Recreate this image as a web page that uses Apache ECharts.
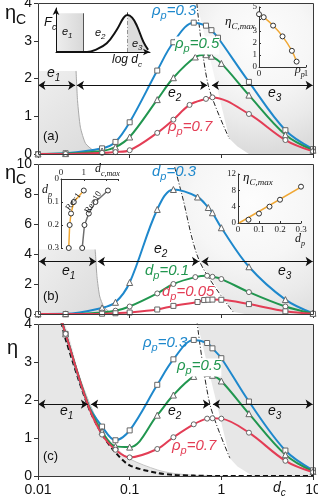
<!DOCTYPE html>
<html>
<head>
<meta charset="utf-8">
<title>eta_C vs d_c</title>
<script src="https://cdn.jsdelivr.net/npm/echarts@6.0.0/dist/echarts.min.js"></script>
<style>
  html, body { margin: 0; padding: 0; background: #fff; }
  #chart { width: 318px; height: 498px; }
</style>
</head>
<body>
<div id="chart"></div>
<script>
// ---------- values ----------
// (a) eta_C vs d_c, rho_p = 0.3 / 0.5 / 0.7
var aBlue = [[0.01, 0], [0.02, 0.02], [0.05, 0.15], [0.07, 0.32], [0.1, 0.84], [0.2, 2.21], [0.3, 2.96], [0.5, 3.48], [0.68, 3.4], [0.78, 3.28], [0.92, 3.08], [2, 1.91], [5, 0.63], [10, 0.13]];
var aGreen = [[0.01, 0], [0.02, 0.01], [0.05, 0.08], [0.07, 0.18], [0.1, 0.45], [0.2, 1.44], [0.3, 2.02], [0.52, 2.57], [0.68, 2.63], [0.78, 2.59], [1, 2.4], [2, 1.56], [5, 0.51], [10, 0.1]];
var aRed = [[0.01, 0], [0.02, 0], [0.05, 0.03], [0.07, 0.05], [0.1, 0.1], [0.2, 0.56], [0.3, 0.91], [0.45, 1.3], [0.68, 1.46], [0.8, 1.5], [2, 1.06], [5, 0.37], [10, 0.07]];
var aLeftShade = [[0.01, 2.2], [0.026, 2.2], [0.027, 1.41], [0.029, 0.71], [0.033, 0.28], [0.04, 0.1], [0.05, 0.03], [0.06, 0]];
var aRightShade = [[2.0, 0], [1.5, 0.2], [1.22, 0.41], [0.54, 4], [10, 4]];
var aDashDot = [[0.54, 4], [0.72, 1.82], [1.22, 0.41]];
var aArrowY = 1.82;
var aArrows = [[0.0101, 0.0254], [0.0266, 0.70], [0.79, 9.9]];

// (b) eta_C vs d_c, d_p = 0.3 / 0.1 / 0.05
var bBlue = [[0.01, 0], [0.02, 0.01], [0.05, 0.41], [0.07, 0.78], [0.1, 2.1], [0.2, 6.97], [0.3, 8.3], [0.55, 7.8], [0.72, 7.1], [0.8, 6.75], [1, 5.75], [2, 3.15], [5, 0.96], [10, 0.05]];
var bGreen = [[0.01, 0], [0.02, 0], [0.05, 0.1], [0.07, 0.22], [0.1, 0.5], [0.2, 1.37], [0.3, 2.0], [0.52, 2.46], [0.7, 2.55], [0.8, 2.48], [1, 2.33], [2, 1.46], [5, 0.5], [10, 0.03]];
var bRed = [[0.01, 0], [0.02, 0], [0.05, 0.02], [0.07, 0.05], [0.1, 0.1], [0.2, 0.3], [0.3, 0.54], [0.55, 0.8], [0.65, 0.93], [0.72, 0.95], [0.8, 0.96], [1, 0.95], [2, 0.66], [5, 0.18], [10, 0.01]];
var bLeftShade = [[0.01, 4.3], [0.042, 4.3], [0.044, 2.5], [0.047, 1.2], [0.052, 0.5], [0.06, 0.15], [0.07, 0]];
var bRightShade = [[1.8, 0], [1.34, 0.15], [0.58, 3.5], [0.37, 8.0], [0.31, 10], [10, 10]];
var bDashDot = [[0.31, 9.8], [0.37, 8.0], [0.58, 3.5], [1.34, 0.15]];
var bArrowY = 3.5;
var bArrows = [[0.0103, 0.043], [0.045, 0.57], [0.61, 9.9]];

// (c) eta vs d_c, rho_p = 0.3 / 0.5 / 0.7
var cBlue = [[0.018, 4.1], [0.02, 3.74], [0.035, 1.9], [0.05, 1.3], [0.07, 0.94], [0.1, 1.2], [0.2, 2.4], [0.3, 3.07], [0.5, 3.58], [0.7, 3.5], [0.8, 3.36], [1, 3.1], [2, 1.96], [5, 0.67], [10, 0.15]];
var cGreen = [[0.018, 4.1], [0.02, 3.74], [0.035, 1.9], [0.05, 1.17], [0.07, 0.78], [0.1, 0.76], [0.2, 1.6], [0.3, 2.13], [0.5, 2.62], [0.7, 2.7], [0.8, 2.65], [1, 2.5], [2, 1.64], [5, 0.56], [10, 0.12]];
var cRed = [[0.018, 4.1], [0.02, 3.74], [0.035, 1.88], [0.05, 1.09], [0.07, 0.69], [0.1, 0.49], [0.2, 0.71], [0.3, 1.02], [0.5, 1.36], [0.7, 1.51], [0.8, 1.52], [1, 1.51], [2, 1.14], [5, 0.4], [10, 0.1]];
var cNoMarkX = [0.018, 0.035];
var cLimit = [[0.018, 4.05], [0.02, 3.6], [0.035, 1.85], [0.05, 1.1], [0.07, 0.62], [0.1, 0.28], [0.2, 0.08], [0.3, 0.03], [0.5, 0.01], [1, 0], [10, 0]];
var cLeftShade = [[0.01, 4.6], [0.018, 4.2], [0.03, 2.45], [0.05, 1.2], [0.07, 0.75], [0.1, 0.45], [0.2, 0.16], [0.3, 0.07], [0.5, 0.02], [1, 0]];
var cRightShade = [[2.2, 0], [1.5, 0.25], [1.24, 0.47], [0.55, 4], [10, 4]];
var cDashDot = [[0.54, 4.1], [0.75, 1.89], [1.24, 0.47]];
var cArrowY = 1.89;
var cArrows = [[0.0101, 0.035], [0.038, 0.75], [0.81, 9.9]];

// inset (a) left: sketch of F_c vs log d_c
var fcCurve = [[0, 0], [0.33, 0], [0.42, 0.05], [0.54, 0.2], [0.645, 0.5], [0.72, 0.78], [0.76, 0.84], [0.81, 0.78], [0.86, 0.6], [0.93, 0.23], [0.98, 0.05]];
var fcSplit = 0.29;
var fcPeak = 0.76;
// inset (a) right: eta_C,max vs rho_p
var rhoP = [0, 0.1, 0.3, 0.5, 0.7, 0.8];
var etaMaxRho = [4.4, 4.15, 3.45, 2.55, 1.35, 0.45];
// inset (b) right: eta_C,max vs d_p
var dpList = [0.05, 0.1, 0.15, 0.2, 0.3];
var etaMaxDp = [0.8, 2.3, 4.0, 5.7, 8.9];
var etaMaxFit = [[0.005, 0], [0.33, 9.7]];
// inset (b) left: d_c,max vs d_p for Re = 1 and Re = 10
var dcMaxRe1 = [1.0, 0.56, 0.44, 0.38, 0.34];
var dcMaxRe10 = [2.06, 1.51, 1.22, 1.03, 0.93];

// ---------- styles ----------
var BLUE = '#1e88cc', GREEN = '#21964f', RED = '#e33d55', ORANGE = '#f0a733';
var SANS = 'Liberation Sans', SERIF = 'Liberation Serif';
var GL = 38, GW = 275;
var gridTops = [3, 164, 324], gridHeights = [151, 150, 152];

function zip(xs, ys) {
  return xs.map(function (x, i) { return [x, ys[i]]; });
}

function logX(gi, showLabel) {
  return {
    type: 'log', logBase: 10, gridIndex: gi, min: 0.01, max: 10,
    axisLine: { show: false },
    axisTick: { show: true, length: 4, lineStyle: { color: '#333' } },
    minorTick: { show: false }, splitLine: { show: false },
    axisLabel: { show: showLabel, margin: 7, color: '#111', fontSize: 14, fontFamily: SANS,
      formatter: function (v) { return String(+v.toPrecision(3)); } }
  };
}

function valY(gi, max, step) {
  return {
    type: 'value', gridIndex: gi, min: 0, max: max, interval: step,
    axisLine: { show: false },
    axisTick: { show: true, length: 4, lineStyle: { color: '#333' } },
    splitLine: { show: false },
    axisLabel: { color: '#111', fontSize: 14, margin: 6, fontFamily: SANS }
  };
}

function insetAxis(gi, min, max, step, extra) {
  var ax = {
    type: 'value', gridIndex: gi, min: min, max: max, interval: step, z: 10,
    axisLine: { show: true, lineStyle: { color: '#333', width: 1 } },
    axisTick: { show: true, inside: true, length: 2, lineStyle: { color: '#333' } },
    splitLine: { show: false },
    axisLabel: { color: '#222', fontSize: 9, margin: 2, fontFamily: SERIF }
  };
  for (var k in extra) ax[k] = extra[k];
  return ax;
}

function curve(gi, data, color, symbol, hidden) {
  return {
    type: 'line', xAxisIndex: gi, yAxisIndex: gi, data: data, smooth: 0.35, z: 4,
    symbol: symbol, showAllSymbol: true, silent: true,
    symbolSize: function (v) { return hidden && hidden.indexOf(v[0]) >= 0 ? 0 : (symbol === 'triangle' ? 6 : 5); },
    lineStyle: { color: color, width: 2 },
    itemStyle: { color: '#fff', borderColor: '#666', borderWidth: 1 }
  };
}

function shade(gi, data, fill, smooth) {
  return {
    type: 'line', xAxisIndex: gi, yAxisIndex: gi, data: data, smooth: smooth, symbol: 'none', z: 1, silent: true,
    lineStyle: { width: 0, opacity: 0 }, areaStyle: { color: fill, opacity: 1 }
  };
}

function thin(gi, data, color, type, width, smooth) {
  return {
    type: 'line', xAxisIndex: gi, yAxisIndex: gi, data: data, smooth: smooth, symbol: 'none', z: 3, silent: true,
    lineStyle: { color: color, width: width, type: type }
  };
}

function arrows(pairs, y) {
  return {
    silent: true, symbol: ['arrow', 'arrow'], symbolSize: 7,
    lineStyle: { color: '#111', width: 1.2, type: 'solid' }, label: { show: false },
    data: pairs.map(function (p) { return [{ coord: [p[0], y] }, { coord: [p[1], y] }]; })
  };
}

var leftGrad = new echarts.graphic.LinearGradient(0, 0, 1, 1, [
  { offset: 0, color: '#efefef' }, { offset: 1, color: '#d9d9d9' }]);
var rightGrad = new echarts.graphic.RadialGradient(0.55, 0.25, 0.95, [
  { offset: 0, color: '#fdfdfd' }, { offset: 0.45, color: '#f6f6f6' },
  { offset: 0.75, color: '#eaeaea' }, { offset: 1, color: '#dcdcdc' }]);

// text with subscripts: parts = [[text, isSub], ...]
function tx(x, y, parts, o) {
  var size = o.size || 15, sub = o.sub || Math.round(size * 0.7);
  var fam = o.family || SANS, st = o.italic === false ? 'normal' : 'italic';
  var col = o.color || '#111';
  var text = parts.map(function (p) { return '{' + (p[1] ? 's' : 'm') + '|' + p[0] + '}'; }).join('');
  return {
    type: 'text', x: x, y: y, z: 120, silent: true, rotation: o.rotation || 0,
    style: {
      text: text, fill: col, backgroundColor: o.bg,
      rich: {
        m: { fontSize: size, fontStyle: st, fontFamily: fam, fill: col, lineHeight: size + 3, verticalAlign: 'top' },
        s: { fontSize: sub, fontStyle: st, fontFamily: fam, fill: col, lineHeight: Math.round(size * 0.6), verticalAlign: 'bottom' }
      }
    }
  };
}

var graphics = [];
gridTops.forEach(function (t, i) {
  graphics.push({ type: 'rect', z: 110, silent: true,
    shape: { x: GL + 0.5, y: t + 0.5, width: GW, height: gridHeights[i] },
    style: { fill: 'none', stroke: '#3a3a3a', lineWidth: 1 } });
});
graphics.push(
  // panel (a)
  tx(152, 3.5, [['ρ'], ['p', 1], ['=0.3']], { color: BLUE }),
  tx(175, 36.5, [['ρ'], ['p', 1], ['=0.5']], { color: GREEN, bg: '#fff' }),
  tx(168, 119.5, [['ρ'], ['p', 1], ['=0.7']], { color: RED }),
  tx(47, 66, [['e'], ['1', 1]], { size: 14 }),
  tx(168, 86, [['e'], ['2', 1]], { size: 14 }),
  tx(268, 86, [['e'], ['3', 1]], { size: 14 }),
  tx(43, 130, [['(a)']], { size: 13, italic: false }),
  tx(5, 3.7, [['η'], ['C', 1]], { size: 20, italic: false }),
  tx(44, 16, [['F'], ['c', 1]], { size: 13 }),
  tx(62, 26, [['e'], ['1', 1]], { size: 11 }),
  tx(95, 27, [['e'], ['2', 1]], { size: 11 }),
  tx(132, 38, [['e'], ['3', 1]], { size: 11 }),
  tx(112, 54, [['log d'], ['c', 1]], { size: 12 }),
  tx(225, 15, [['η'], ['C,max', 1]], { size: 13, family: SERIF }),
  tx(295, 64, [['ρ'], ['p', 1]], { size: 12, family: SERIF }),
  // panel (b)
  tx(152, 164.5, [['d'], ['p', 1], ['=0.3']], { color: BLUE }),
  tx(145, 263.5, [['d'], ['p', 1], ['=0.1']], { color: GREEN }),
  tx(162, 284.5, [['d'], ['p', 1], ['=0.05']], { color: RED }),
  tx(154, 242, [['e'], ['2', 1]], { size: 14 }),
  tx(62, 264, [['e'], ['1', 1]], { size: 14 }),
  tx(278, 264, [['e'], ['3', 1]], { size: 14 }),
  tx(43, 290, [['(b)']], { size: 13, italic: false }),
  tx(5, 163.7, [['η'], ['C', 1]], { size: 20, italic: false }),
  tx(95, 163, [['d'], ['c,max', 1]], { size: 12, family: SERIF }),
  tx(42, 184, [['d'], ['p', 1]], { size: 12, family: SERIF }),
  tx(64, 207, [['Re=1']], { size: 9, family: SERIF, italic: false, rotation: 0.93 }),
  tx(83, 210, [['Re=10']], { size: 9, family: SERIF, italic: false, rotation: 1.0 }),
  tx(243, 171, [['η'], ['C,max', 1]], { size: 13, family: SERIF }),
  tx(295, 233, [['d'], ['p', 1]], { size: 12, family: SERIF }),
  // panel (c)
  tx(143, 335, [['ρ'], ['p', 1], ['=0.3']], { color: BLUE }),
  tx(177, 358.5, [['ρ'], ['p', 1], ['=0.5']], { color: GREEN, bg: '#fff' }),
  tx(172, 438.5, [['ρ'], ['p', 1], ['=0.7']], { color: RED }),
  tx(60, 404, [['e'], ['1', 1]], { size: 14 }),
  tx(168, 404, [['e'], ['2', 1]], { size: 14 }),
  tx(268, 404, [['e'], ['3', 1]], { size: 14 }),
  tx(43, 450, [['(c)']], { size: 13, italic: false }),
  tx(7, 338.7, [['η']], { size: 20, italic: false }),
  tx(273, 481.5, [['d'], ['c', 1]], { size: 14 })
);

var option = {
  animation: false,
  backgroundColor: '#fff',
  grid: [
    { left: GL, width: GW, top: gridTops[0], height: gridHeights[0], outerBoundsMode: 'none' },
    { left: GL, width: GW, top: gridTops[1], height: gridHeights[1], outerBoundsMode: 'none' },
    { left: GL, width: GW, top: gridTops[2], height: gridHeights[2], outerBoundsMode: 'none' },
    { left: 56, top: 8, width: 94, height: 44, outerBoundsMode: 'none' },      // F_c sketch
    { left: 259, top: 7, width: 47, height: 60, outerBoundsMode: 'none' },     // eta_max vs rho_p
    { left: 61, top: 179, width: 57, height: 69, outerBoundsMode: 'none' },    // d_c,max vs d_p
    { left: 238, top: 174, width: 63, height: 49, outerBoundsMode: 'none' }    // eta_max vs d_p
  ],
  xAxis: [
    logX(0, false), logX(1, false), logX(2, true),
    { type: 'value', gridIndex: 3, min: 0, max: 1, z: 10, axisLabel: { show: false }, axisTick: { show: false }, splitLine: { show: false },
      axisLine: { show: true, symbol: ['none', 'arrow'], symbolSize: [5, 7], lineStyle: { color: '#111', width: 1 } } },
    insetAxis(4, 0, 1, 1),
    insetAxis(5, 0, 2.5, 1, { position: 'top', axisLabel: { color: '#222', fontSize: 9, margin: 2, fontFamily: SERIF,
      formatter: function (v) { return v > 1 ? '' : String(v); } } }),
    insetAxis(6, 0, 0.3, 0.1, { axisLabel: { color: '#222', fontSize: 9, margin: 2, fontFamily: SERIF,
      formatter: function (v) { return String(+v.toFixed(1)); } } })
  ],
  yAxis: [
    valY(0, 4, 1), valY(1, 10, 2), valY(2, 4, 1),
    { type: 'value', gridIndex: 3, min: 0, max: 1, z: 10, axisLabel: { show: false }, axisTick: { show: false }, splitLine: { show: false },
      axisLine: { show: true, symbol: ['none', 'arrow'], symbolSize: [5, 7], lineStyle: { color: '#111', width: 1 } } },
    insetAxis(4, 0, 5, 1, { axisLabel: { color: '#222', fontSize: 9, margin: 2, fontFamily: SERIF,
      formatter: function (v) { return v === 4 ? '' : String(v); } } }),
    insetAxis(5, 0, 0.3, 0.1, { inverse: true, axisLabel: { color: '#222', fontSize: 9, margin: 2, fontFamily: SERIF,
      formatter: function (v) { return String(+v.toFixed(1)); } } }),
    insetAxis(6, 0, 12, 4)
  ],
  graphic: graphics,
  series: [
    // ---- (a)
    shade(0, aLeftShade, leftGrad, 0.2),
    thin(0, aLeftShade.slice(1), '#a8a8a8', 'solid', 1, 0.2),
    shade(0, aRightShade, rightGrad, false),
    (function () { var s = thin(0, aDashDot, '#222', [5, 2, 1, 2], 1, 0.3); s.markLine = arrows(aArrows, aArrowY); return s; })(),
    curve(0, aBlue, BLUE, 'rect'),
    curve(0, aGreen, GREEN, 'triangle'),
    curve(0, aRed, RED, 'circle'),
    // ---- (b)
    shade(1, bLeftShade, leftGrad, 0.2),
    thin(1, bLeftShade.slice(1), '#a8a8a8', 'solid', 1, 0.2),
    shade(1, bRightShade, rightGrad, false),
    (function () { var s = thin(1, bDashDot, '#222', [5, 2, 1, 2], 1, 0.3); s.markLine = arrows(bArrows, bArrowY); return s; })(),
    curve(1, bBlue, BLUE, 'triangle'),
    curve(1, bGreen, GREEN, 'circle'),
    curve(1, bRed, RED, 'rect'),
    // ---- (c)
    shade(2, cLeftShade, '#e7e7e7', 0.3),
    thin(2, cLeftShade.slice(1), '#c4c4c4', 'solid', 1, 0.3),
    shade(2, cRightShade, '#e7e7e7', false),
    (function () { var s = thin(2, cDashDot, '#222', [5, 2, 1, 2], 1, 0.3); s.markLine = arrows(cArrows, cArrowY); return s; })(),
    thin(2, cLimit, '#111', [5, 3], 2, 0.3),
    curve(2, cBlue, BLUE, 'rect', cNoMarkX),
    curve(2, cGreen, GREEN, 'triangle', cNoMarkX),
    curve(2, cRed, RED, 'circle', cNoMarkX),
    // ---- inset: F_c sketch
    {
      type: 'line', xAxisIndex: 3, yAxisIndex: 3, data: fcCurve, smooth: 0.4, symbol: 'none', z: 6, silent: true,
      lineStyle: { color: '#111', width: 2 },
      markArea: { silent: true, itemStyle: { color: new echarts.graphic.LinearGradient(0, 0, 1, 0, [
          { offset: 0, color: '#eeeeee' }, { offset: 1, color: '#d8d8d8' }]) },
        data: [[{ coord: [0, 0] }, { coord: [fcSplit, 0.88] }]] },
      markLine: { silent: true, symbol: 'none', label: { show: false },
        data: [
          [{ coord: [fcSplit, 0], lineStyle: { color: '#555', width: 1, type: 'solid' } }, { coord: [fcSplit, 0.88] }],
          [{ coord: [fcPeak, 0], lineStyle: { color: '#333', width: 1, type: [4, 2, 1, 2] } }, { coord: [fcPeak, 0.9] }]
        ] }
    },
    {
      type: 'line', xAxisIndex: 3, yAxisIndex: 3, smooth: 0.4, symbol: 'none', z: 5, silent: true,
      data: fcCurve.filter(function (p) { return p[0] >= fcPeak; }),
      lineStyle: { width: 0, opacity: 0 }, areaStyle: { color: '#dcdcdc', opacity: 1 }
    },
    // ---- inset: eta_C,max vs rho_p
    {
      type: 'line', xAxisIndex: 4, yAxisIndex: 4, data: zip(rhoP, etaMaxRho), smooth: 0.4, z: 12, silent: true,
      symbol: 'circle', symbolSize: 5, lineStyle: { color: ORANGE, width: 1.5 },
      itemStyle: { color: '#fff', borderColor: '#333', borderWidth: 1 }
    },
    // ---- inset: d_c,max vs d_p
    {
      type: 'line', xAxisIndex: 5, yAxisIndex: 5, data: zip(dcMaxRe1, dpList), z: 12, silent: true,
      symbol: 'circle', symbolSize: 5, lineStyle: { color: ORANGE, width: 1.5 },
      itemStyle: { color: '#fff', borderColor: '#333', borderWidth: 1 }
    },
    {
      type: 'line', xAxisIndex: 5, yAxisIndex: 5, data: zip(dcMaxRe10, dpList), z: 12, silent: true,
      symbol: 'circle', symbolSize: 5, lineStyle: { color: '#6e6e6e', width: 1.5 },
      itemStyle: { color: '#fff', borderColor: '#333', borderWidth: 1 }
    },
    // ---- inset: eta_C,max vs d_p
    {
      type: 'line', xAxisIndex: 6, yAxisIndex: 6, data: etaMaxFit, symbol: 'none', z: 11, silent: true, clip: false,
      lineStyle: { color: ORANGE, width: 1.5 }
    },
    {
      type: 'scatter', xAxisIndex: 6, yAxisIndex: 6, data: zip(dpList, etaMaxDp), z: 12, silent: true,
      symbol: 'circle', symbolSize: 5, itemStyle: { color: '#fff', borderColor: '#333', borderWidth: 1, opacity: 1 }
    }
  ]
};

var myChart = echarts.init(document.getElementById('chart'));
myChart.setOption(option);
window.onresize = function () {
  myChart.resize();
};
</script>
</body>
</html>
